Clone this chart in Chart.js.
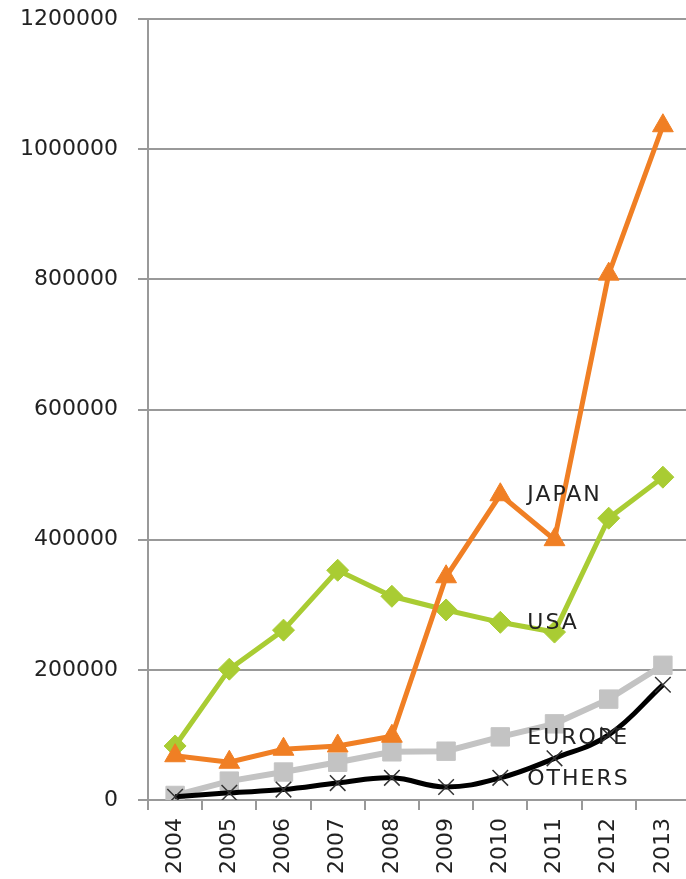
<!DOCTYPE html>
<html>
<head>
<meta charset="utf-8">
<script src="https://cdn.jsdelivr.net/npm/chart.js@4/dist/chart.umd.min.js"></script>
<style>
  html, body { margin: 0; padding: 0; background: #fff; overflow: hidden; }
  #wrap { width: 704px; height: 879px; }
</style>
</head>
<body>
<div id="wrap"><canvas id="salesChart"></canvas></div>
<script>
// Yearly figures per region
var years = ['2004', '2005', '2006', '2007', '2008', '2009', '2010', '2011', '2012', '2013']
var japan = [68000, 58000, 78000, 83000, 98000, 343000, 469000, 400000, 808000, 1036000]
var usa = [83000, 201000, 261000, 353000, 313000, 292000, 273000, 258000, 433000, 496000]
var europe = [7000, 29000, 43000, 58000, 74000, 75000, 97000, 117000, 155000, 207000]
var others = [5000, 11000, 16000, 26000, 34000, 20000, 34000, 64000, 100000, 177000]
var yTicks = [0, 200000, 400000, 600000, 800000, 1000000, 1200000]

var labelIndex = 6 // series names sit next to the 2010 points
var font = 'DejaVu Sans'

// Writes each series name to the right of its point
var seriesNames = {
    id: 'seriesNames',
    afterDatasetsDraw: function(chart) {
        var ctx = chart.ctx
        ctx.save()
        ctx.font = '22px "' + font + '"'
        ctx.fillStyle = '#222'
        ctx.textBaseline = 'middle'
        ctx.textAlign = 'left'
        ctx.letterSpacing = '2px'
        chart.data.datasets.forEach(function(ds, i) {
            var pt = chart.getDatasetMeta(i).data[labelIndex]
            ctx.fillText(ds.label, pt.x + 27, pt.y + 1)
        })
        ctx.restore()
    }
}

var ctx = document.getElementById('salesChart').getContext('2d');
var lineChart = new Chart(ctx, {
    type: 'line',
    data: {
        labels: years,
        datasets: [{
            label: 'JAPAN',
            data: japan,
            borderColor: '#F07F24',
            backgroundColor: '#F07F24',
            borderWidth: 5,
            pointStyle: 'triangle',
            pointRadius: 12,
            pointBorderWidth: 1,
            tension: 0,
            order: 2,
        }, {
            label: 'USA',
            data: usa,
            borderColor: '#A9CC33',
            backgroundColor: '#A9CC33',
            borderWidth: 5,
            pointStyle: 'rectRot',
            pointRadius: 11,
            pointBorderWidth: 1,
            tension: 0,
            order: 4,
        }, {
            label: 'EUROPE',
            data: europe,
            borderColor: '#C3C3C3',
            backgroundColor: '#C3C3C3',
            borderWidth: 6,
            pointStyle: 'rect',
            pointRadius: 13,
            pointBorderWidth: 1,
            tension: 0,
            order: 3,
        }, {
            label: 'OTHERS',
            data: others,
            borderColor: '#000',
            backgroundColor: '#000',
            borderWidth: 5,
            pointStyle: 'crossRot',
            pointRadius: 11,
            pointBorderColor: '#333',
            pointBorderWidth: 1.5,
            tension: 0.4,
            order: 1,
        }],
    },
    options: {
        responsive: true,
        maintainAspectRatio: false,
        animation: false,
        layout: { padding: { top: 19, right: 0, left: 0, bottom: 0 } },
        plugins: {
            legend: { display: false },
            tooltip: { enabled: false },
        },
        scales: {
            x: {
                offset: true,
                grid: {
                    display: true,
                    drawOnChartArea: false,
                    drawTicks: true,
                    offset: true,
                    tickLength: 10,
                    color: '#999',
                    lineWidth: 2,
                },
                border: { display: false },
                ticks: {
                    minRotation: 90,
                    maxRotation: 90,
                    padding: 8,
                    color: '#222',
                    font: { family: font, size: 22 },
                },
                afterFit: function(scale) { scale.height = 79 },
            },
            y: {
                min: 0,
                max: 1200000,
                grid: {
                    color: '#999',
                    lineWidth: 2,
                    tickLength: 10,
                },
                border: { display: true, color: '#999', width: 2 },
                afterBuildTicks: function(scale) {
                    scale.ticks = yTicks.map(function(v) { return { value: v } })
                },
                ticks: {
                    padding: 20,
                    color: '#222',
                    font: { family: font, size: 22 },
                    callback: function(v) { return String(v) },
                },
                afterFit: function(scale) {
                    scale.width = 148
                    scale.paddingTop = 0
                    scale.paddingBottom = 0
                },
            },
        },
    },
    plugins: [seriesNames],
});
</script>
</body>
</html>
